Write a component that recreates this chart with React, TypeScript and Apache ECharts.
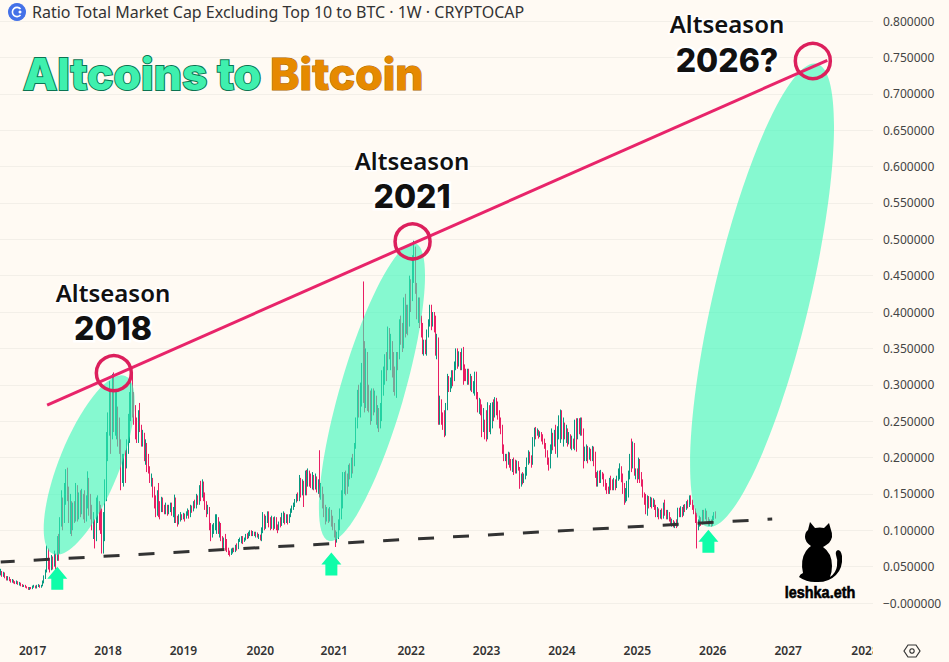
import React, { useEffect, useRef } from "react";
import * as echarts from "echarts";

// Weekly candles, thousandths of BTC ratio: close, high, low
const weeks2016 = [
  42,47,38, 38,44,36, 41,43,36, 36,42,34, 33,37,31, 35,37,31, 32,36,30, 30,33,28, 31,33,28, 29,32,27,
  27,30,26, 29,31,26, 26,30,25, 27,29,24, 24,28,23, 23,26,22, 24,25,22, 22,25,21, 21,23,20, 19,22,18,
  21,22,18, 20,22,19,
];
const weeks2017 = [
  22,24,19, 23,25,21, 21,24,20, 23,25,20, 24,26,22, 22,25,21, 23,25,21, 27,31,23, 33,38,27, 40,46,33,
  72,79,42, 58,75,46, 48,62,42, 60,66,45, 55,64,46, 64,72,50, 50,68,46, 82,92,58, 70,95,58, 115,118,68,
  130,155,105, 112,145,100, 155,165,110, 180,184,135, 150,186,140, 120,160,110, 128,150,95, 105,140,92, 132,138,100, 118,140,110,
  150,165,112, 125,162,112, 138,152,115, 122,155,118, 145,157,122, 135,150,115, 118,155,110, 140,148,112, 170,181,130, 150,172,120,
  122,150,115, 105,135,100, 110,125,88, 85,115,75, 120,145,85, 135,148,110, 125,140,100, 110,135,95, 72,130,68, 90,125,68,
  150,170,85, 205,235,140,
];
const weeks2018 = [
  240,262,195, 285,305,230, 230,292,205, 300,315,225, 250,317,235, 270,290,230, 285,292,225, 240,270,215, 215,255,205, 170,225,155,
  180,205,165, 195,205,160, 185,210,165, 210,225,185, 225,260,205, 270,290,220, 295,312,250, 280,317,255, 260,290,245, 245,272,225,
  225,255,220, 255,265,220, 245,275,235, 222,245,215, 228,238,215, 200,234,195, 215,225,190, 195,220,180, 185,205,178, 170,188,165,
  172,178,160, 150,172,145, 135,160,130, 122,148,118, 150,155,120, 135,165,118, 125,140,115, 140,146,125, 130,145,125, 125,135,122,
  132,138,122, 125,135,120, 130,135,122, 136,138,125, 125,138,120, 128,132,118, 145,149,110, 115,145,110, 108,120,105, 118,122,108,
  120,125,112, 117,122,114,
];
const weeks2019 = [
  122,124,115, 115,123,112, 122,126,116, 125,130,120, 120,128,116, 132,135,118, 128,134,124, 138,140,126, 135,142,130, 145,150,130,
  142,148,135, 158,162,135, 150,168,140, 165,170,145, 145,167,140, 130,152,128, 125,140,118, 130,135,122, 105,132,100, 95,110,85,
  100,108,90, 105,110,95, 110,122,100, 118,122,95, 105,118,95, 108,112,90, 88,110,85, 80,92,75, 85,90,72, 75,95,72,
  72,88,70, 70,76,66, 68,72,64, 72,75,66, 74,76,68, 72,76,70, 78,80,70, 75,82,72, 85,88,74, 88,90,84,
  90,92,82, 84,92,81, 88,90,84, 92,95,86, 90,96,88, 94,98,89, 96,100,92, 95,100,92, 96,99,92, 93,98,92,
  95,98,90, 92,97,90, 93,95,88,
];
const weeks2020 = [
  88,94,86, 98,104,85, 120,125,96, 106,122,100, 112,120,102, 124,126,110, 120,126,104, 108,118,100, 115,120,102, 104,118,100,
  116,119,102, 105,118,100, 102,108,96, 110,112,100, 108,118,104, 120,124,106, 124,126,110, 115,124,108, 118,122,110, 112,122,108,
  120,122,110, 126,130,118, 130,134,124, 135,138,128, 140,143,132, 148,150,138, 145,152,140, 172,176,140, 155,172,145, 165,170,148,
  150,168,132, 180,182,148, 165,183,148, 178,185,160, 172,182,160, 168,178,158, 175,180,156, 160,176,155, 172,178,156, 158,174,152,
  165,170,150, 150,210,145, 155,165,142, 135,160,130, 125,150,118, 118,135,108, 128,132,112, 120,130,110, 125,132,112, 115,128,105,
  108,120,100, 92,110,90,
];
const weeks2021 = [
  84,100,77, 90,98,83, 108,115,88, 120,130,100, 145,155,115, 160,180,130, 175,180,150, 170,182,148, 165,178,150, 185,190,160,
  180,192,170, 195,200,172, 190,205,178, 215,220,188, 245,255,212, 290,293,240, 270,300,255, 295,303,255, 320,330,270, 300,442,275,
  285,360,262, 340,350,268, 290,345,264, 275,300,262, 262,292,245, 290,295,250, 270,295,258, 285,292,262, 255,285,245, 262,272,240,
  245,268,235, 270,275,240, 305,320,250, 320,325,285, 340,342,300, 325,345,305, 375,380,320, 345,378,335, 365,370,320, 330,360,310,
  310,345,290, 300,325,285, 340,345,282, 335,345,320, 380,390,335, 370,395,355, 355,385,345, 410,420,350, 375,425,365, 400,410,370,
  385,410,368, 440,450,380, 420,445,400, 470,478,415,
];
const weeks2022 = [
  495,498,440, 430,490,425, 400,440,390, 410,420,385, 385,420,378, 375,395,365, 345,385,342, 355,362,340, 345,362,342, 372,376,340,
  385,390,365, 405,410,380, 380,410,375, 395,400,380, 380,400,372, 355,395,340, 360,370,335, 270,365,245, 275,285,245, 255,280,245,
  250,262,238, 235,265,228, 270,275,230, 310,315,265, 295,312,290, 305,310,290, 315,320,295, 310,320,298, 325,332,305, 345,350,320,
  330,350,322, 340,346,325, 325,345,320, 345,350,320, 320,352,300, 315,328,305, 310,322,305, 318,322,300, 305,322,300, 310,315,292,
  295,312,290, 300,305,288, 315,318,285, 285,318,280, 265,290,262, 275,282,260, 262,280,258, 235,273,228, 250,268,235, 232,252,225,
  225,265,222, 268,276,225,
];
const weeks2023 = [
  240,272,235, 255,275,232, 272,276,240, 260,280,250, 280,283,255, 270,282,258, 265,277,252, 250,265,240, 240,255,232, 215,245,205,
  198,218,195, 200,205,195, 192,205,185, 205,208,190, 195,207,186, 185,198,182, 195,198,180, 190,200,176, 180,197,178, 192,196,178,
  185,195,182, 160,187,157, 172,178,160, 165,180,163, 175,178,165, 180,187,170, 195,200,175, 205,210,190, 195,208,192, 190,203,186,
  225,228,190, 240,241,215, 228,242,225, 235,240,230, 230,238,226, 232,236,228, 225,235,222, 220,232,218, 215,226,212, 205,220,200,
  195,210,190, 185,200,182, 215,218,185, 225,240,205, 215,234,210, 235,238,215, 225,245,205, 240,243,200, 255,258,225, 262,266,220,
  240,265,225, 245,255,215,
];
const weeks2024 = [
  228,248,225, 240,245,220, 225,240,215, 230,235,218, 215,232,212, 225,230,210, 218,226,212, 250,252,210, 225,254,208, 250,254,225,
  235,254,232, 252,255,230, 235,255,230, 195,240,185, 205,215,195, 215,218,195, 195,216,192, 210,214,197, 200,212,195, 212,216,195,
  190,215,188, 175,208,172, 165,180,160, 178,182,160, 170,182,165, 178,183,165, 175,180,170, 165,178,160, 160,170,155, 155,165,150,
  152,160,150, 170,172,150, 165,175,155, 160,170,155, 168,172,155, 160,170,155, 170,175,158, 180,185,168, 185,192,170, 170,188,166,
  160,178,150, 140,165,135, 148,158,138, 165,168,140, 175,182,145, 200,205,170, 195,226,180, 215,222,185, 175,220,175, 180,185,170,
  170,185,165, 195,200,170,
];
const weeks2025 = [
  175,198,165, 165,180,160, 150,170,145, 145,152,135, 130,150,122, 145,148,120, 135,147,130, 140,146,132, 135,145,130, 142,144,132,
  132,142,128, 122,135,118, 128,132,118, 120,130,115, 125,128,116, 118,130,115, 135,138,116, 125,142,120, 118,128,115, 125,128,115,
  115,125,112, 110,118,108, 112,116,105, 106,114,104, 108,112,103, 105,115,103, 128,131,105, 125,131,118, 130,133,118, 122,132,118,
  132,135,120, 128,136,125, 138,140,128, 135,142,130, 145,148,132, 140,148,135, 132,142,128, 128,135,122, 115,130,110, 100,124,75,
  108,115,100, 115,120,105, 110,118,106, 125,128,108, 118,128,112, 125,130,115, 115,127,112, 110,118,106, 112,115,106, 108,115,105,
  116,120,106, 122,125,114, 120,126,116,
];

const yearTicks = ["2017", "2018", "2019", "2020", "2021", "2022", "2023", "2024", "2025", "2026", "2027", "2028"];
const yearTickWeeks = [22, 74, 126, 179, 230, 283, 335, 387, 439, 491, 543, 596];
const weekCount = 602;

// Annotations: [week, ratio]
const resistanceLine = [[32, 0.272], [570, 0.746]];
const supportLine = [[0, 0.0563], [532, 0.1154]];
const peakCircles = [[78, 0.316], [284, 0.497], [560, 0.745]];
const upArrows = [[39, 0.034], [228, 0.0535], [488, 0.085]];
const seasonEllipses = [[61, 0.1896], [256, 0.29], [525, 0.423]];
const ellipseAxes = [[30, 96, 22], [32, 155, 16.2], [48, 238, 13.3]];

const BG = "#fffaf3";
const UP = "#089981";
const DOWN = "#e91e63";
const FONT = '"Noto Sans", sans-serif';

const weeklyTriples = [
  ...weeks2016, ...weeks2017, ...weeks2018, ...weeks2019, ...weeks2020,
  ...weeks2021, ...weeks2022, ...weeks2023, ...weeks2024, ...weeks2025,
];

function buildCandles() {
  const out: number[][] = [];
  let prev = weeklyTriples[0];
  for (let k = 0; k + 2 < weeklyTriples.length; k += 3) {
    const c = weeklyTriples[k], h = weeklyTriples[k + 1], l = weeklyTriples[k + 2];
    out.push([prev / 1000, c / 1000, l / 1000, h / 1000]);
    prev = c;
  }
  return out;
}

const CAT_PATH =
  "M810 522 L815 528 Q820 527 824 528 L829 523 L831 530 Q834 537 829 543 Q825 546 823 547 Q832 553 832 566 Q832 572 830 577 Q836 573 837 566 Q838 560 836 555 Q835 551 838 550 Q841 550 842 556 Q843 568 836 575 Q828 583 815 582 Q806 582 799 577 Q800 574 803 573 Q800 560 806 551 Q808 548 811 546 Q805 542 805 537 Q805 532 808 530 Z";
echarts.graphic.registerShape("catShape", echarts.graphic.extendPath(CAT_PATH, {}) as any);

function seasonText(label: string, cx: number, y: number) {
  return {
    type: "text", z: 50, x: cx, y,
    style: {
      text: label, font: '600 24px "Noto Sans", sans-serif', fill: "#111",
      stroke: "#ffffff", lineWidth: 3, strokeFirst: true, textAlign: "center", textVerticalAlign: "middle",
    },
  };
}
function yearText(label: string, cx: number, y: number) {
  return {
    type: "text", z: 50, x: cx, y,
    style: {
      text: label, font: '800 32px Inter, sans-serif', fill: "#111",
      stroke: "#ffffff", lineWidth: 5, strokeFirst: true, textAlign: "center", textVerticalAlign: "middle",
    },
  };
}

export default function App() {
  const ref = useRef<HTMLDivElement>(null);
  useEffect(() => {
    document.body.style.margin = "0";
    document.body.style.background = BG;
    const chart = echarts.init(ref.current!, undefined, { renderer: "svg" });
    const categories = Array.from({ length: weekCount }, (_, i) => {
      const at = yearTickWeeks.indexOf(i);
      return at >= 0 ? yearTicks[at] : String(i);
    });
    chart.setOption({
      animation: false,
      backgroundColor: BG,
      grid: { left: 0, right: 76, top: 21, bottom: 22.6 },
      xAxis: {
        type: "category",
        data: categories,
        axisLine: { show: false },
        axisTick: { show: false },
        splitLine: { show: false },
        axisLabel: {
          interval: (i: number) => yearTickWeeks.includes(i),
          hideOverlap: false,
          margin: 5,
          color: "#333",
          fontFamily: FONT,
          fontSize: 12,
          fontWeight: 600,
        },
      },
      yAxis: {
        type: "value",
        position: "right",
        min: -0.05,
        max: 0.8,
        interval: 0.05,
        axisLine: { show: false },
        axisTick: { show: false },
        splitLine: { show: true, showMinLine: false, lineStyle: { color: "#f3efe8", width: 1 } },
        axisLabel: {
          showMinLabel: false,
          align: "left",
          margin: 10,
          color: "#444",
          fontFamily: FONT,
          fontSize: 12,
          formatter: (v: number) => (Math.abs(v) < 1e-9 ? "\u22120.000000" : v.toFixed(6)),
        },
      },
      series: [
        {
          type: "candlestick",
          z: 2,
          barWidth: 1,
          data: buildCandles(),
          itemStyle: { color: UP, color0: DOWN, borderColor: UP, borderColor0: DOWN, borderWidth: 1 },
        },
        {
          type: "custom",
          z: 3,
          data: seasonEllipses,
          encode: { x: 0, y: 1 },
          renderItem: (params: any, api: any) => {
            const p = api.coord([api.value(0), api.value(1)]);
            const [rx, ry, tilt] = ellipseAxes[params.dataIndex];
            return {
              type: "ellipse",
              x: p[0],
              y: p[1],
              rotation: (-tilt * Math.PI) / 180,
              shape: { cx: 0, cy: 0, rx, ry },
              style: { fill: "#35f8b9", opacity: 0.6 },
            };
          },
        },
        {
          type: "line", z: 4, data: resistanceLine, showSymbol: false,
          lineStyle: { color: "#e8246a", width: 3 },
        },
        {
          type: "line", z: 4, data: supportLine, showSymbol: false,
          lineStyle: { color: "#333", width: 3, type: [16, 19], dashOffset: 1.7 },
        },
        {
          type: "scatter", z: 5, data: peakCircles, symbol: "circle", symbolSize: 35,
          itemStyle: { color: "rgba(0,0,0,0)", borderColor: "#dc1f5c", borderWidth: 3.5, opacity: 1 },
        },
        {
          type: "scatter", z: 5, data: upArrows,
          symbol: "path://M10 0 L20 12 L16 12 L16 23 L4 23 L4 12 L0 12 Z",
          symbolSize: [20, 23],
          itemStyle: { color: "#0ffda9", opacity: 1 },
        },
      ],
      graphic: [
        { type: "rect", z: 40, shape: { x: 873, y: 641, width: 76, height: 21 }, style: { fill: BG } },
        {
          type: "polygon", z: 41,
          shape: { points: [[904, 651], [908, 645], [916, 645], [920, 651], [916, 657], [908, 657]] },
          style: { fill: "none", stroke: "#333", lineWidth: 1.2 },
        },
        { type: "circle", z: 41, shape: { cx: 912, cy: 651, r: 2.2 }, style: { fill: "none", stroke: "#333", lineWidth: 1.2 } },

        { type: "circle", z: 41, shape: { cx: 17, cy: 12, r: 9 }, style: { fill: "#4471e8" } },
        { type: "arc", z: 42, shape: { cx: 17, cy: 12, r: 4.6, startAngle: 0.7, endAngle: 5.6, clockwise: true }, style: { fill: "none", stroke: "#fff", lineWidth: 1.6 } },
        { type: "circle", z: 42, shape: { cx: 20, cy: 12, r: 1.5 }, style: { fill: "#fff" } },
        {
          type: "text", z: 41, x: 32, y: 12,
          style: { text: "Ratio Total Market Cap Excluding Top 10 to BTC \u00b7 1W \u00b7 CRYPTOCAP", font: `16px ${FONT}`, fill: "#333", textAlign: "left", textVerticalAlign: "middle" },
        },

        {
          type: "text", z: 50, x: 23, y: 74,
          style: { text: "Altcoins to", font: '800 44.5px Inter, sans-serif', fill: "#3ff0ae", stroke: "#0b7452", lineWidth: 2, textAlign: "left", textVerticalAlign: "middle" },
        },
        {
          type: "text", z: 50, x: 270, y: 74,
          style: { text: "Bitcoin", font: '800 44.5px Inter, sans-serif', fill: "#e68a00", stroke: "#a86400", lineWidth: 1, textAlign: "left", textVerticalAlign: "middle" },
        },

        seasonText("Altseason", 113, 292),
        yearText("2018", 113, 328),
        seasonText("Altseason", 412, 160),
        yearText("2021", 412, 196),
        seasonText("Altseason", 727, 23),
        yearText("2026?", 727, 60),

        { type: "catShape", z: 50, x: 0, y: 0, style: { fill: "#000" } },
        {
          type: "text", z: 50, x: 820, y: 592, scaleX: 0.85,
          style: { text: "leshka.eth", font: 'bold 17px "Liberation Sans Narrow", sans-serif', fill: "#000", stroke: "#000", lineWidth: 0.6, textAlign: "center", textVerticalAlign: "middle" },
        },
      ],
    });
    return () => chart.dispose();
  }, []);
  return <div ref={ref} style={{ width: 949, height: 662, background: BG }} />;
}
